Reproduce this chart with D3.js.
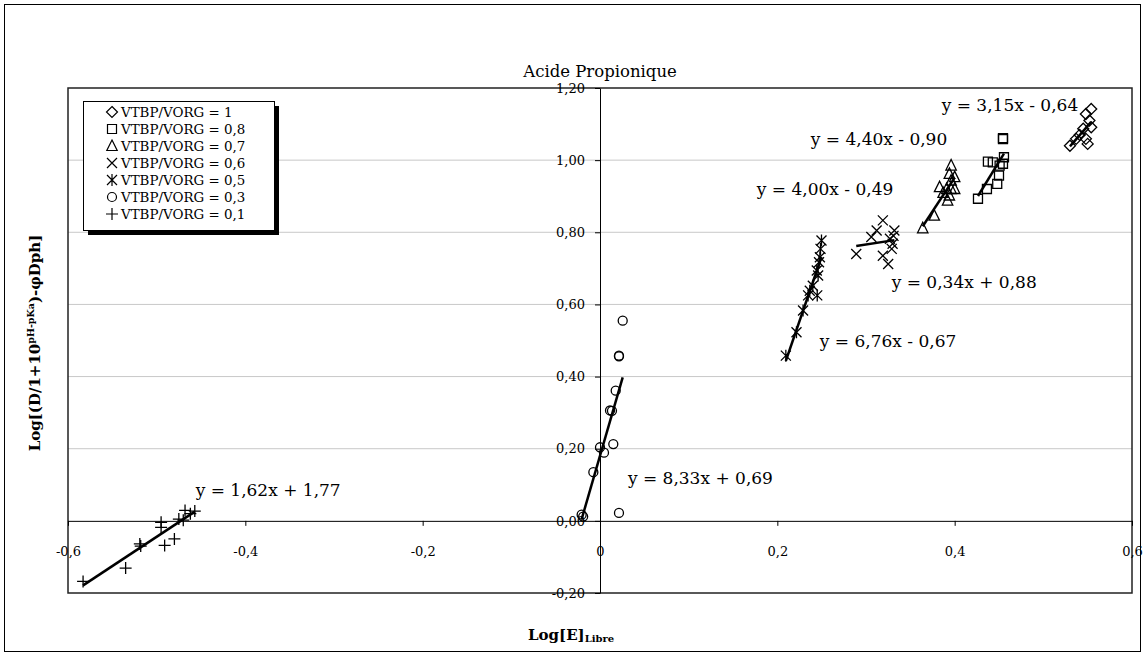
<!DOCTYPE html>
<html><head><meta charset="utf-8">
<script src="https://cdn.jsdelivr.net/npm/d3@7/dist/d3.min.js"></script>
<style>body{margin:0;background:#fff}svg{display:block}text{font-family:"DejaVu Serif",serif;fill:#000}</style>
</head><body><svg id="c" width="1145" height="656"></svg>
<script>
// ---- data ----
const seriesNames = ["VTBP/VORG = 1","VTBP/VORG = 0,8","VTBP/VORG = 0,7","VTBP/VORG = 0,6","VTBP/VORG = 0,5","VTBP/VORG = 0,3","VTBP/VORG = 0,1"];
const seriesSymbols = ["diamond","square","triangle","cross","asterisk","circle","plus"];
const ratio10 = [[0.554,1.142],[0.548,1.128],[0.552,1.110],[0.554,1.091],[0.545,1.087],[0.541,1.070],[0.537,1.059],[0.548,1.059],[0.530,1.040],[0.550,1.045]];
const ratio08 = [[0.4545,1.061],[0.4545,1.058],[0.4375,0.996],[0.443,0.994],[0.4556,1.008],[0.4507,0.985],[0.4545,0.990],[0.450,0.957],[0.448,0.934],[0.4364,0.920],[0.4263,0.893]];
const ratio07 = [[0.364,0.811],[0.377,0.846],[0.383,0.925],[0.391,0.920],[0.387,0.909],[0.392,0.888],[0.394,0.902],[0.396,0.920],[0.400,0.920],[0.400,0.953],[0.396,0.943],[0.394,0.962],[0.396,0.985]];
const ratio06 = [[0.289,0.740],[0.306,0.787],[0.312,0.805],[0.319,0.833],[0.332,0.805],[0.327,0.782],[0.330,0.768],[0.329,0.754],[0.319,0.735],[0.325,0.712],[0.331,0.790]];
const ratio05 = [[0.2096,0.458],[0.2216,0.523],[0.229,0.583],[0.2366,0.638],[0.2347,0.625],[0.245,0.625],[0.240,0.652],[0.2445,0.694],[0.246,0.680],[0.247,0.717],[0.248,0.731],[0.2487,0.754],[0.2498,0.777]];
const ratio03 = [[0.0214,0.458],[0.0214,0.456],[0.0256,0.555],[0.0177,0.361],[0.0113,0.306],[0.0135,0.305],[0.015,0.213],[0.0,0.204],[0.0045,0.189],[-0.0075,0.135],[-0.0207,0.017],[-0.019,0.012],[0.0214,0.022]];
const ratio01 = [[-0.583,-0.168],[-0.535,-0.131],[-0.519,-0.064],[-0.518,-0.070],[-0.495,-0.004],[-0.495,-0.018],[-0.491,-0.068],[-0.480,-0.050],[-0.475,0.005],[-0.470,0.002],[-0.468,0.029],[-0.462,0.020],[-0.457,0.027]];
const allSeries = [ratio10,ratio08,ratio07,ratio06,ratio05,ratio03,ratio01];
const equations = ["y = 3,15x - 0,64","y = 4,40x - 0,90","y = 4,00x - 0,49","y = 0,34x + 0,88","y = 6,76x - 0,67","y = 8,33x + 0,69","y = 1,62x + 1,77"];
const equationAnchorX = [0.3854,0.2377,0.1769,0.329,0.2479,0.0315,-0.456];
const equationAnchorY = [1.137,1.042,0.904,0.646,0.482,0.103,0.069];
const xTicks = [-0.6,-0.4,-0.2,0,0.2,0.4,0.6];
const xTickLabels = ["-0,6","-0,4","-0,2","0","0,2","0,4","0,6"];
const yTicks = [-0.2,0,0.2,0.4,0.6,0.8,1.0,1.2];
const yTickLabels = ["-0,20","0,00","0,20","0,40","0,60","0,80","1,00","1,20"];

// ---- layout ----
const svg = d3.select("#c");
const L = 68, R = 1132, T = 88, B = 593;
const x = d3.scaleLinear().domain([-0.6,0.6]).range([L,R]);
const y = d3.scaleLinear().domain([-0.2,1.2]).range([B,T]);

// outer frame
svg.append("rect").attr("x",4.5).attr("y",4.5).attr("width",1136).attr("height",647)
  .attr("fill","#fff").attr("stroke","#000").attr("stroke-width",1);

// title
svg.append("text").attr("x",600).attr("y",77).attr("text-anchor","middle")
  .style("font-size","16.5px").text("Acide Propionique");

// gridlines
svg.append("g").selectAll("line").data(yTicks.filter(v=>v>0.01 && v<1.19)).join("line")
  .attr("x1",L).attr("x2",R).attr("y1",d=>y(d)).attr("y2",d=>y(d))
  .attr("stroke","#c8c8c8").attr("stroke-width",1);

// plot border
svg.append("rect").attr("x",L).attr("y",T).attr("width",R-L).attr("height",B-T)
  .attr("fill","none").attr("stroke","#222").attr("stroke-width",1.5);

// axes
const xAxis = svg.append("g").attr("transform",`translate(0,${y(0)})`)
  .call(d3.axisBottom(x).tickValues(xTicks).tickFormat((d,i)=>xTickLabels[i]).tickSize(5).tickSizeOuter(0).tickPadding(21));
const yAxis = svg.append("g").attr("transform",`translate(${x(0)},0)`)
  .call(d3.axisLeft(y).tickValues(yTicks).tickFormat((d,i)=>yTickLabels[i]).tickSize(5).tickSizeOuter(0).tickPadding(10));
[xAxis,yAxis].forEach(g=>{
  g.selectAll("path,line").attr("stroke","#000").attr("stroke-width",1);
  g.selectAll("text").style("font-family","'DejaVu Serif',serif").style("font-size","13px").attr("fill","#000");
});

// symbol paths
function symPath(t){
  switch(t){
    case "diamond": return "M0,-5.5L5.5,0L0,5.5L-5.5,0Z";
    case "square": return "M-4.5,-4.5H4.5V4.5H-4.5Z";
    case "triangle": return "M0,-6L5.2,4.5H-5.2Z";
    case "cross": return "M-5,-5L5,5M-5,5L5,-5";
    case "asterisk": return "M-5,-5L5,5M-5,5L5,-5M0,-6V6";
    case "circle": return "M4.5,0A4.5,4.5 0 1,1 -4.5,0A4.5,4.5 0 1,1 4.5,0Z";
    case "plus": return "M-6,0H6M0,-6V6";
  }
}

// markers
allSeries.forEach((pts,i)=>{
  svg.append("g").selectAll("path").data(pts).join("path")
    .attr("transform",d=>`translate(${x(d[0])},${y(d[1])})`)
    .attr("d",symPath(seriesSymbols[i]))
    .attr("fill","none").attr("stroke","#000").attr("stroke-width",1.3);
});

// linear trend lines
function linreg(pts){
  const mx=d3.mean(pts,d=>d[0]), my=d3.mean(pts,d=>d[1]);
  let sxy=0,sxx=0; pts.forEach(d=>{sxy+=(d[0]-mx)*(d[1]-my);sxx+=(d[0]-mx)**2;});
  const m=sxy/sxx; return {m, b:my-m*mx};
}
allSeries.forEach(pts=>{
  const r=linreg(pts); const [x0,x1]=d3.extent(pts,d=>d[0]);
  svg.append("line").attr("x1",x(x0)).attr("y1",y(r.m*x0+r.b)).attr("x2",x(x1)).attr("y2",y(r.m*x1+r.b))
    .attr("stroke","#000").attr("stroke-width",2.5);
});

// equation labels
svg.append("g").selectAll("text").data(equations).join("text")
  .attr("x",(d,i)=>x(equationAnchorX[i])).attr("y",(d,i)=>y(equationAnchorY[i]))
  .style("font-size","17px").text(d=>d);

// legend
const lg = svg.append("g");
lg.append("rect").attr("x",88).attr("y",106).attr("width",191).attr("height",129).attr("fill","#000");
lg.append("rect").attr("x",83.5).attr("y",101.5).attr("width",191).attr("height",129).attr("fill","#fff").attr("stroke","#000").attr("stroke-width",1);
seriesNames.forEach((n,i)=>{
  const cy = 112 + i*17;
  lg.append("path").attr("transform",`translate(112,${cy})`).attr("d",symPath(seriesSymbols[i]))
    .attr("fill","none").attr("stroke","#000").attr("stroke-width",1.2);
  lg.append("text").attr("x",121).attr("y",cy+5).style("font-size","13.4px").text(n);
});

// axis titles
const yt = svg.append("text").attr("transform","translate(40,343) rotate(-90)").attr("text-anchor","middle")
  .style("font-size","15px").style("font-weight","bold");
yt.append("tspan").text("Log[(D/1+10");
yt.append("tspan").attr("dy",-6).style("font-size","9.5px").text("pH-pKa");
yt.append("tspan").attr("dy",6).text(")-φDph]");

const xt = svg.append("text").attr("x",528).attr("y",640).style("font-size","15px").style("font-weight","bold");
xt.append("tspan").text("Log[E]");
xt.append("tspan").attr("dy",2).style("font-size","10px").text("Libre");
</script>
</body></html>
